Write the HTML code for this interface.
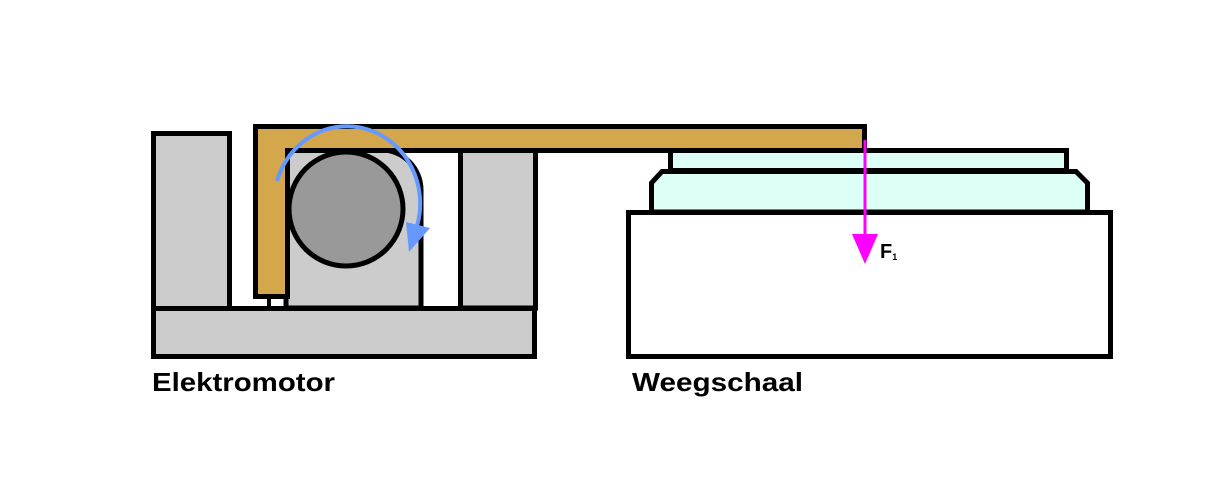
<!DOCTYPE html>
<html><head><meta charset="utf-8"><style>
html,body{margin:0;padding:0;background:#fff;}
svg{display:block;}
text{font-family:"Liberation Sans",Arial,sans-serif;font-weight:bold;}
</style></head><body>
<svg width="1219" height="496" viewBox="0 0 1219 496">
  <g stroke="#000" stroke-width="5" stroke-linejoin="miter">
    <rect x="153.5" y="133.5" width="76" height="175" fill="#cccccc"/>
    <rect x="460.5" y="150" width="75" height="158" fill="#cccccc"/>
    <path d="M286,150 L381,150 A40,40 0 0 1 421,190 L421,308 L286,308 Z" fill="#cccccc"/>
    <rect x="153.5" y="308.5" width="381" height="48" fill="#cccccc"/>
    <line x1="269" y1="296" x2="269" y2="308" stroke-width="4"/>
    <path d="M255.5,126.5 L864.5,126.5 L864.5,150.5 L287.5,150.5 L287.5,296.5 L255.5,296.5 Z" fill="#d4a74c"/>
    <circle cx="346" cy="209" r="57" fill="#999999"/>
    <rect x="670.5" y="150.5" width="396" height="20" fill="#dcfff6"/>
    <path d="M651.5,212 L651.5,183 L662,171.5 L1076,171.5 L1087.5,183 L1087.5,212 Z" fill="#dcfff6"/>
    <rect x="628.5" y="212.5" width="482" height="144" fill="#ffffff"/>
  </g>
  <path d="M277,181 A72,76 0 0 1 417,226" fill="none" stroke="#6699ff" stroke-width="4"/>
  <polygon points="406,222 430,228 409,252" fill="#6699ff"/>
  <line x1="865" y1="140" x2="865" y2="240" stroke="#ff00ff" stroke-width="3"/>
  <polygon points="852,234 878,234 865,264" fill="#ff00ff"/>
  <text x="880" y="258" font-size="20">F<tspan font-size="9" dy="2">1</tspan></text>
  <text x="152" y="391" font-size="26" textLength="183" lengthAdjust="spacingAndGlyphs">Elektromotor</text>
  <text x="632" y="391" font-size="26" textLength="171" lengthAdjust="spacingAndGlyphs">Weegschaal</text>
</svg>
</body></html>
